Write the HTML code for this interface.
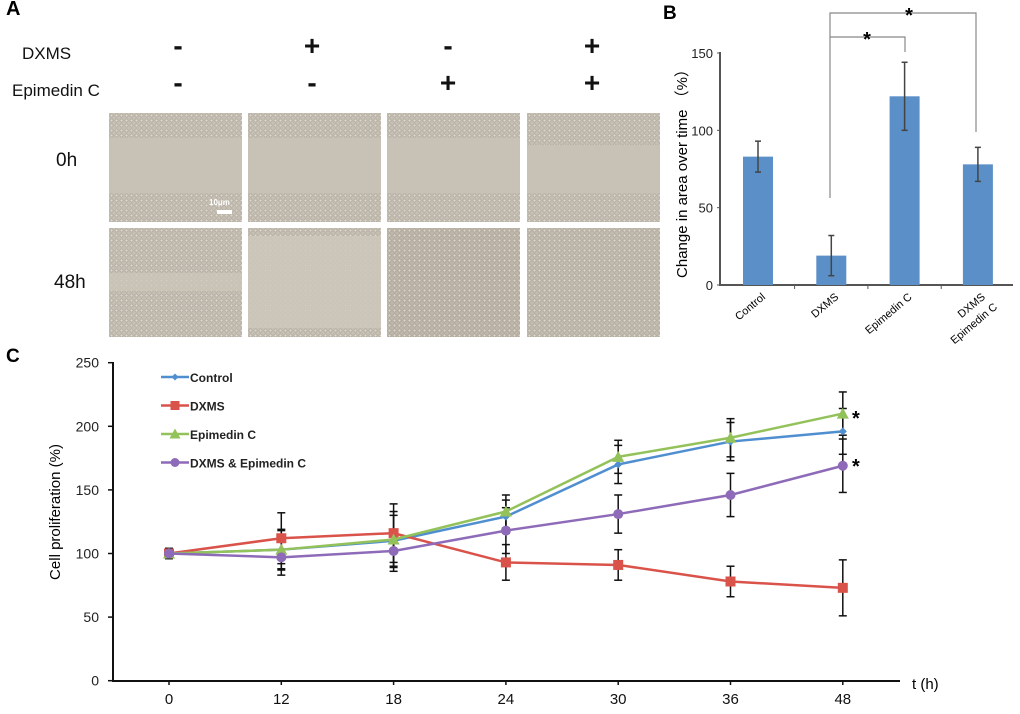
<!DOCTYPE html>
<html><head><meta charset="utf-8"><style>
html,body{margin:0;padding:0;background:#fff;}
body{width:1020px;height:714px;position:relative;overflow:hidden;font-family:"Liberation Sans",Arial,sans-serif;}
.abs{position:absolute;}
.img{position:absolute;width:133px;height:109px;background-color:#c6c0b4;
background-image:radial-gradient(circle at 50% 50%, rgba(225,220,210,.8) 0 1px, rgba(130,122,110,.35) 1.4px 1.8px, transparent 2.1px);
background-size:5px 5px;}
.band{position:absolute;left:0;right:0;background:#c8c2b6;}
.lbl{position:absolute;font-size:17px;color:#111;}
.sign{position:absolute;font-size:28px;font-weight:bold;color:#111;width:30px;text-align:center;}
</style></head><body>
<div class="abs" style="left:6px;top:-2px;font-size:20px;font-weight:bold;">A</div>
<div class="lbl" style="left:22px;top:44px;">DXMS</div>
<div class="lbl" style="left:12px;top:81px;">Epimedin C</div>
<div class="sign" style="left:163px;top:30px;">-</div>
<div class="sign" style="left:297px;top:30px;">+</div>
<div class="sign" style="left:433px;top:30px;">-</div>
<div class="sign" style="left:577px;top:30px;">+</div>
<div class="sign" style="left:163px;top:67px;">-</div>
<div class="sign" style="left:297px;top:67px;">-</div>
<div class="sign" style="left:433px;top:67px;">+</div>
<div class="sign" style="left:577px;top:67px;">+</div>
<div class="lbl" style="left:56px;top:150px;font-size:19px;">0h</div>
<div class="lbl" style="left:54px;top:272px;font-size:19px;">48h</div>

<div class="img" style="left:109px;top:113px;"><div class="band" style="top:25px;height:55px;"></div>
<div class="abs" style="left:100px;top:85px;color:#fff;font-size:8px;font-weight:bold;">10μm</div><div class="abs" style="left:108px;top:97px;width:15px;height:4px;background:#fff;"></div></div>
<div class="img" style="left:248px;top:113px;"><div class="band" style="top:25px;height:55px;"></div></div>
<div class="img" style="left:387px;top:113px;"><div class="band" style="top:25px;height:55px;"></div></div>
<div class="img" style="left:527px;top:113px;"><div class="band" style="top:32px;height:48px;"></div></div>
<div class="img" style="left:109px;top:228px;"><div class="band" style="top:45px;height:18px;background:#cdc7bb;opacity:.7"></div></div>
<div class="img" style="left:248px;top:228px;"><div class="band" style="top:8px;height:92px;background:#cec8bc;opacity:.85"></div></div>
<div class="img" style="left:387px;top:228px;background-color:#bdb6a9;"></div>
<div class="img" style="left:527px;top:228px;background-color:#c2bcaf;"></div>

<svg id="chartB" class="abs" style="left:0;top:0" width="1020" height="714"></svg>
<svg id="chartC" class="abs" style="left:0;top:0" width="1020" height="714"></svg>

<script>
const bCategories=["Control","DXMS","Epimedin C","DXMS & Epimedin C"];
const bValues=[83,19,122,78];
const bErrors=[10,13,22,11];
const bTicks=[0,50,100,150];

const cTimes=["0","12","18","24","30","36","48"];
const cSeriesNames=["Control","DXMS","Epimedin C","DXMS & Epimedin C"];
const cControl=[100,103,110,129,170,188,196];
const cDxms=[100,112,116,93,91,78,73];
const cEpi=[100,103,111,133,176,191,210];
const cCombo=[100,97,102,118,131,146,169];
const cControlErr=[3,15,20,13,15,15,18];
const cDxmsErr=[4,20,23,14,12,12,22];
const cEpiErr=[3,16,22,13,13,15,17];
const cComboErr=[4,14,16,18,15,17,21];
const cTicks=[0,50,100,150,200,250];

const NS="http://www.w3.org/2000/svg";
function mk(svg,tag,attrs,text){const e=document.createElementNS(NS,tag);for(const k in attrs)e.setAttribute(k,attrs[k]);if(text!==undefined)e.textContent=text;svg.appendChild(e);return e;}

// Panel B
(function(){
const s=document.getElementById('chartB');
const y=v=>285-v*(232/150);
const x=i=>758+i*73.3;
let t=mk(s,'text',{x:663,y:19,'font-size':19,'font-weight':'bold','font-family':'Liberation Sans'},'B');

t=mk(s,'text',{transform:'translate(687,170) rotate(-90)','text-anchor':'middle','font-size':15,'font-family':'Liberation Sans, Noto Sans CJK SC, sans-serif'},'Change in area over time （%）');

let a=mk(s,'line',{x1:720,y1:52,x2:720,y2:286,stroke:'#555','stroke-width':2});

a=mk(s,'line',{x1:719,y1:285,x2:1013,y2:285,stroke:'#555','stroke-width':2});

bTicks.forEach(v=>{
 mk(s,'line',{x1:717,y1:y(v),x2:720,y2:y(v),stroke:'#555'});
 const l=mk(s,'text',{x:713,y:y(v)+5,'text-anchor':'end','font-size':13,'font-family':'Liberation Sans',fill:'#222'},String(v));
 
});
bValues.forEach((v,i)=>{
 const r=mk(s,'rect',{x:x(i)-15,y:y(v),width:30,height:285-y(v),fill:'#5b8fc7'});
 
 const e=bErrors[i];
 mk(s,'line',{x1:x(i),y1:y(v+e),x2:x(i),y2:y(v-e),stroke:'#444','stroke-width':1.5});
 mk(s,'line',{x1:x(i)-3,y1:y(v+e),x2:x(i)+3,y2:y(v+e),stroke:'#444','stroke-width':1.5});
 mk(s,'line',{x1:x(i)-3,y1:y(v-e),x2:x(i)+3,y2:y(v-e),stroke:'#444','stroke-width':1.5});
 if(i<3) mk(s,'line',{x1:x(i)+36.6,y1:285,x2:x(i)+36.6,y2:289,stroke:'#555'});
});
const labs=[["Control"],["DXMS"],["Epimedin C"],["DXMS","Epimedin C"]];
labs.forEach((ls,i)=>{
 ls.forEach((l,j)=>{
  const tx=mk(s,'text',{transform:`translate(${x(i)+8+j*12},${298+j*10}) rotate(-40)`,'text-anchor':'end','font-size':11,'font-family':'Liberation Sans'},l);
  
 });
});
mk(s,'polyline',{points:`830,198 830,13 976,13 976,132`,fill:'none',stroke:'#888','stroke-width':1.2});
mk(s,'polyline',{points:`830,37 905,37 905,52`,fill:'none',stroke:'#888','stroke-width':1.2});
t=mk(s,'text',{x:909,y:22,'font-size':20,'font-weight':'bold','text-anchor':'middle'},'*');

t=mk(s,'text',{x:867,y:46,'font-size':20,'font-weight':'bold','text-anchor':'middle'},'*');

})();

// Panel C
(function(){
const s=document.getElementById('chartC');
const y=v=>680.7-v*(318/250);
const x=i=>169+i*112.3;
let t=mk(s,'text',{x:6,y:362,'font-size':19,'font-weight':'bold'},'C');

t=mk(s,'text',{transform:'translate(60,512) rotate(-90)','text-anchor':'middle','font-size':15,'font-family':'Liberation Sans'},'Cell proliferation (%)');

let a=mk(s,'line',{x1:113,y1:362,x2:113,y2:682,stroke:'#111','stroke-width':2});

a=mk(s,'line',{x1:112,y1:681,x2:900,y2:681,stroke:'#111','stroke-width':2});

cTicks.forEach(v=>{
 mk(s,'line',{x1:108,y1:y(v),x2:113,y2:y(v),stroke:'#111','stroke-width':1.5});
 const l=mk(s,'text',{x:99,y:y(v)+5,'text-anchor':'end','font-size':14,fill:'#222'},String(v));
 
});
cTimes.forEach((c,i)=>{
 mk(s,'line',{x1:x(i),y1:681,x2:x(i),y2:685,stroke:'#111','stroke-width':1.5});
 const l=mk(s,'text',{x:x(i),y:704,'text-anchor':'middle','font-size':15,fill:'#111'},c);
 
});
t=mk(s,'text',{x:912,y:689,'font-size':15},'t (h)');

const series=[[cControl,cControlErr,'#4f8fd0','diamond'],[cDxms,cDxmsErr,'#d9534a','square'],[cEpi,cEpiErr,'#93c25a','triangle'],[cCombo,cComboErr,'#8e6bb8','circle']];
function marker(shape,cx,cy,col,size){
 if(shape==='diamond')return mk(s,'polygon',{points:`${cx},${cy-size} ${cx+size},${cy} ${cx},${cy+size} ${cx-size},${cy}`,fill:col});
 if(shape==='square')return mk(s,'rect',{x:cx-size,y:cy-size,width:size*2,height:size*2,fill:col});
 if(shape==='triangle')return mk(s,'polygon',{points:`${cx},${cy-size-1} ${cx+size+1},${cy+size} ${cx-size-1},${cy+size}`,fill:col});
 return mk(s,'circle',{cx:cx,cy:cy,r:size,fill:col});
}
series.forEach(([vals,errs])=>{
 vals.forEach((v,i)=>{
  const e=errs[i];
  mk(s,'line',{x1:x(i),y1:y(v+e),x2:x(i),y2:y(v-e),stroke:'#111','stroke-width':1.5});
  mk(s,'line',{x1:x(i)-4,y1:y(v+e),x2:x(i)+4,y2:y(v+e),stroke:'#111','stroke-width':1.5});
  mk(s,'line',{x1:x(i)-4,y1:y(v-e),x2:x(i)+4,y2:y(v-e),stroke:'#111','stroke-width':1.5});
 });
});
series.forEach(([vals,errs,col,shape],k)=>{
 const p=mk(s,'polyline',{points:vals.map((v,i)=>x(i)+','+y(v)).join(' '),fill:'none',stroke:col,'stroke-width':2.5});
 
 vals.forEach((v,i)=>{const m=marker(shape,x(i),y(v),col,shape==='diamond'?4:5);
  });
 const ly=377+k*28.5;
 mk(s,'line',{x1:161,y1:ly,x2:189,y2:ly,stroke:col,'stroke-width':2.5});
 marker(shape,175,ly,col,shape==='diamond'?3.5:4.5);
 const l=mk(s,'text',{x:190,y:ly+5,'font-size':12,'font-weight':'bold',fill:'#222'},cSeriesNames[k]);
 
});
t=mk(s,'text',{x:852,y:425,'font-size':20,'font-weight':'bold'},'*');

t=mk(s,'text',{x:852,y:473,'font-size':20,'font-weight':'bold'},'*');

})();
</script>
</body></html>
